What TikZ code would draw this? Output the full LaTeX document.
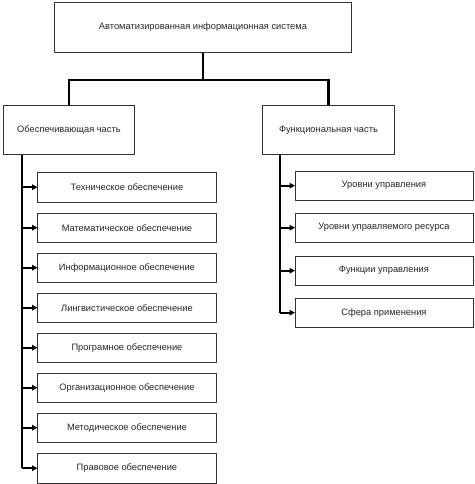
\documentclass[tikz,border=0pt]{standalone}
\usepackage{fontspec}
\setmainfont{Liberation Sans}
\usetikzlibrary{arrows.meta}
\begin{document}
\begin{tikzpicture}[x=1pt,y=-1pt,
  box/.style={draw=black!80, line width=0.9pt, inner sep=0pt, anchor=north west,
    font=\fontsize{9.3}{11}\selectfont, text=black!85, align=center},
  tree/.style={line width=2.6pt, black},
  br/.style={line width=2.2pt, black, -{Triangle[length=5.5pt,width=5.5pt]}, shorten >=-0.5pt}]
\useasboundingbox (0,0) rectangle (474,484);
% top
\node[box, minimum width=297pt, minimum height=50pt] (top) at (54,2) {Автоматизированная информационная система};
\node[box, minimum width=131pt, minimum height=49pt] (left) at (3,105) {Обеспечивающая часть};
\node[box, minimum width=132pt, minimum height=49pt] (right) at (262,105) {Функциональная часть};
\coordinate (mid) at ([yshift=-27pt]top.south);
\draw[tree] (top.south) -- (mid);
\draw[tree] (mid) -| (left.north);
\draw[tree] (mid) -| (right.north);
% left children
\foreach \n/\y/\t in {1/172/Техническое обеспечение,
  2/212.5/Математическое обеспечение,
  3/252.5/Информационное обеспечение,
  4/292.5/Лингвистическое обеспечение,
  5/332.5/Програмное обеспечение,
  6/372.5/Организационное обеспечение,
  7/412.5/Методическое обеспечение,
  8/453/Правовое обеспечение}
  \node[box, minimum width=179pt, minimum height=29.5pt] (l\n) at (37,\y) {\t};
% right children
\foreach \n/\y/\t in {1/170.5/Уровни управления,
  2/212.5/Уровни управляемого ресурса,
  3/255.5/Функции управления,
  4/297.5/Сфера применения}
  \node[box, minimum width=178pt, minimum height=29.5pt] (r\n) at (294.5,\y) {\t};
% left trunk
\coordinate (lt) at ([xshift=19pt]left.south west);
\draw[tree] (lt) -- (lt |- l8.west);
\foreach \n in {1,...,8}
  \draw[br] (lt |- l\n.west) -- (l\n.west);
% right trunk
\coordinate (rt) at ([xshift=18pt]right.south west);
\draw[tree] (rt) -- (rt |- r4.west);
\foreach \n in {1,...,4}
  \draw[br] (rt |- r\n.west) -- (r\n.west);
\end{tikzpicture}
\end{document}
